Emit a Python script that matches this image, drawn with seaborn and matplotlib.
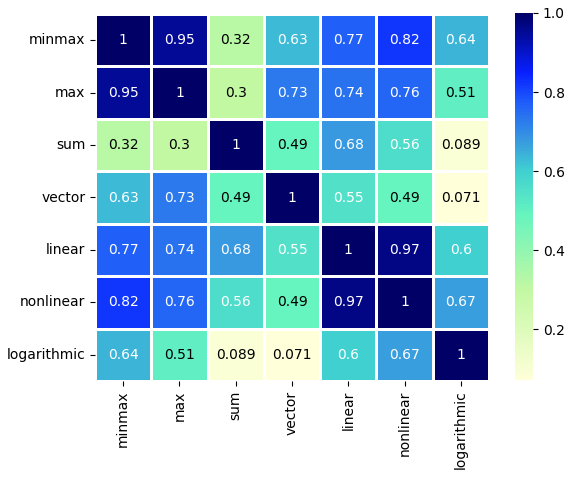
import numpy as np
import pandas as pd
import matplotlib
matplotlib.use("Agg")
import matplotlib.pyplot as plt
import seaborn as sns
from matplotlib.colors import LinearSegmentedColormap

labels = ["minmax", "max", "sum", "vector", "linear", "nonlinear", "logarithmic"]
row_minmax = [1, 0.95, 0.32, 0.63, 0.77, 0.82, 0.64]
row_max = [0.95, 1, 0.3, 0.73, 0.74, 0.76, 0.51]
row_sum = [0.32, 0.3, 1, 0.49, 0.68, 0.56, 0.089]
row_vector = [0.63, 0.73, 0.49, 1, 0.55, 0.49, 0.071]
row_linear = [0.77, 0.74, 0.68, 0.55, 1, 0.97, 0.6]
row_nonlinear = [0.82, 0.76, 0.56, 0.49, 0.97, 1, 0.67]
row_log = [0.64, 0.51, 0.089, 0.071, 0.6, 0.67, 1]

df = pd.DataFrame([row_minmax, row_max, row_sum, row_vector, row_linear,
                   row_nonlinear, row_log], index=labels, columns=labels)

cmap = LinearSegmentedColormap.from_list("custom", [
    (0.0, "#ffffd9"),
    (0.2465, "#c2f8a2"),
    (0.451, "#66f4bf"),
    (0.569, "#40d0d0"),
    (0.656, "#3898e0"),
    (0.752, "#2060f8"),
    (0.838, "#0820ff"),
    (1.0, "#000066"),
])

plt.rcParams["font.size"] = 10
fig = plt.figure(figsize=(5.72, 4.79), dpi=100)
ax = fig.add_axes([95 / 572, 1 - 381 / 479, (489 - 95) / 572, (381 - 14) / 479])
cax = fig.add_axes([515 / 572, 1 - 380 / 479, 18 / 572, (380 - 13) / 479])
sns.heatmap(df, annot=True, cmap=cmap, linewidths=2, linecolor="white",
            ax=ax, cbar_ax=cax, annot_kws={"size": 10})
ax.tick_params(labelsize=10)
plt.setp(ax.get_yticklabels(), rotation=0)
plt.setp(ax.get_xticklabels(), rotation=90)
for t in ax.texts:
    v = float(t.get_text())
    t.set_color("white" if v >= 0.53 else "black")
cax.tick_params(labelsize=10)
fig.savefig("out.png", dpi=100)
